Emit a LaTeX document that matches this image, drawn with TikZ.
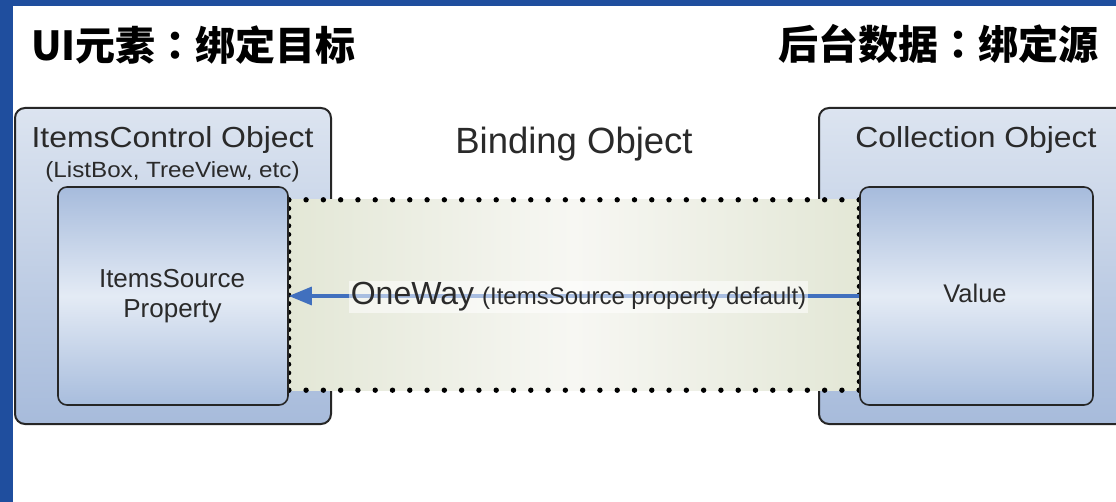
\documentclass[tikz,border=0pt]{standalone}
\usepackage{fontspec}
\setmainfont{Liberation Sans}
\newfontfamily\cjk{Noto Sans CJK SC}
\newfontfamily\cjkpunct{Noto Sans CJK TC}
\newfontfamily\widesans[FakeStretch=1.1]{Liberation Sans}
\usetikzlibrary{arrows.meta,calc}
\definecolor{frameblue}{HTML}{1F4E9E}
\definecolor{outertop}{HTML}{DCE4F0}
\definecolor{outerbot}{HTML}{A7BBDB}
\definecolor{innertop}{HTML}{A6BBDC}
\definecolor{innermid}{HTML}{E4EBF5}
\definecolor{innerbot}{HTML}{A8BDDD}
\definecolor{bindedge}{HTML}{E3E7D6}
\definecolor{bindmid}{HTML}{F7F7F3}
\definecolor{arrowblue}{HTML}{4170BE}
\definecolor{txt}{HTML}{2A2A2A}
\tikzset{
  outerbox/.style={draw=black!85, line width=2pt, rounded corners=10pt,
    top color=outertop, bottom color=outerbot, minimum width=316pt, minimum height=316pt, inner sep=0pt},
  innerbox/.style={draw=black!85, line width=1.6pt, rounded corners=9pt,
    top color=innertop, bottom color=innerbot, middle color=innermid, minimum height=218pt, inner sep=0pt},
  bindbox/.style={left color=bindedge, right color=bindedge, middle color=bindmid, inner sep=0pt},
  dotmark/.style={fill=black},
  boxtitle/.style={anchor=base, text=txt, font=\widesans\fontsize{29}{32}\selectfont, inner sep=0pt},
  boxsub/.style={anchor=base, text=txt, font=\widesans\fontsize{22}{24}\selectfont, inner sep=0pt},
  proptext/.style={anchor=base, text=txt, font=\fontsize{26}{28}\selectfont, inner sep=0pt},
  title/.style={text=black, font=\cjk\bfseries\fontsize{40}{44}\selectfont, inner sep=0pt},
  flow/.style={draw=arrowblue, line width=3.2pt, -{Triangle[length=23pt, width=18pt]}},
  flowlabel/.style={fill=white, fill opacity=0.55, text opacity=1, text=txt, inner sep=2pt}
}
\begin{document}
\begin{tikzpicture}[x=1pt, y=-1pt]
\useasboundingbox (0,0) rectangle (1116,502);
\clip (0,0) rectangle (1116,502);
\fill[white] (0,0) rectangle (1116,502);
\fill[frameblue] (0,0) rectangle (13,502);
\fill[frameblue] (0,0) rectangle (1116,6);

% titles
\node[title, anchor=west] (lefttitle) at (31,45) {UI元素{\cjkpunct\bfseries ：}绑定目标};
\node[title, anchor=east] (righttitle) at (1099,44) {后台数据{\cjkpunct\bfseries ：}绑定源};

% outer boxes
\node[outerbox] (ctl) at (173,266) {};
\node[outerbox] (coll) at (977,266) {};

% binding object area
\node[bindbox, minimum width=570pt, minimum height=190pt] (bind) at (574,295) {};
\foreach \i in {0,...,33} {
  \fill[dotmark] ($(bind.north west)!\i/33!(bind.north east)$) circle (2.7pt);
  \fill[dotmark] ($(bind.south west)!\i/33!(bind.south east)$) circle (2.7pt);
}
\foreach \i in {0,...,22} {
  \fill[dotmark] ($(bind.north west)!\i/22!(bind.south west)$) circle (2.5pt);
  \fill[dotmark] ($(bind.north east)!\i/22!(bind.south east)$) circle (2.5pt);
}

% inner boxes
\node[innerbox, minimum width=230pt] (prop) at (173,296) {};
\node[innerbox, minimum width=233pt] (val) at (976.5,296) {};

% texts
\node[boxtitle] (ctltitle) at (172.5,148) {ItemsControl Object};
\node[boxsub] (ctlsub) at (172.5,177.5) {(ListBox, TreeView, etc)};
\node[boxtitle] (colltitle) at (976,148) {Collection Object};
\node[anchor=base, text=txt, font=\fontsize{36.5}{40}\selectfont, inner sep=0pt] (bindtitle) at (574,154) {Binding Object};
\node[proptext] (prop1) at (172,288) {ItemsSource};
\node[proptext] (prop2) at (172.5,318) {Property};
\node[proptext, font=\fontsize{25.5}{28}\selectfont] (valtext) at (975,303) {Value};

% connector
\draw[flow] (val.west) -- (prop.east)
  node[pos=0.492, flowlabel, yshift=-1pt] (flowtext) {{\fontsize{32}{34}\selectfont OneWay}\hspace{8pt}{\fontsize{24}{26}\selectfont (ItemsSource property default)}};
\end{tikzpicture}
\end{document}
